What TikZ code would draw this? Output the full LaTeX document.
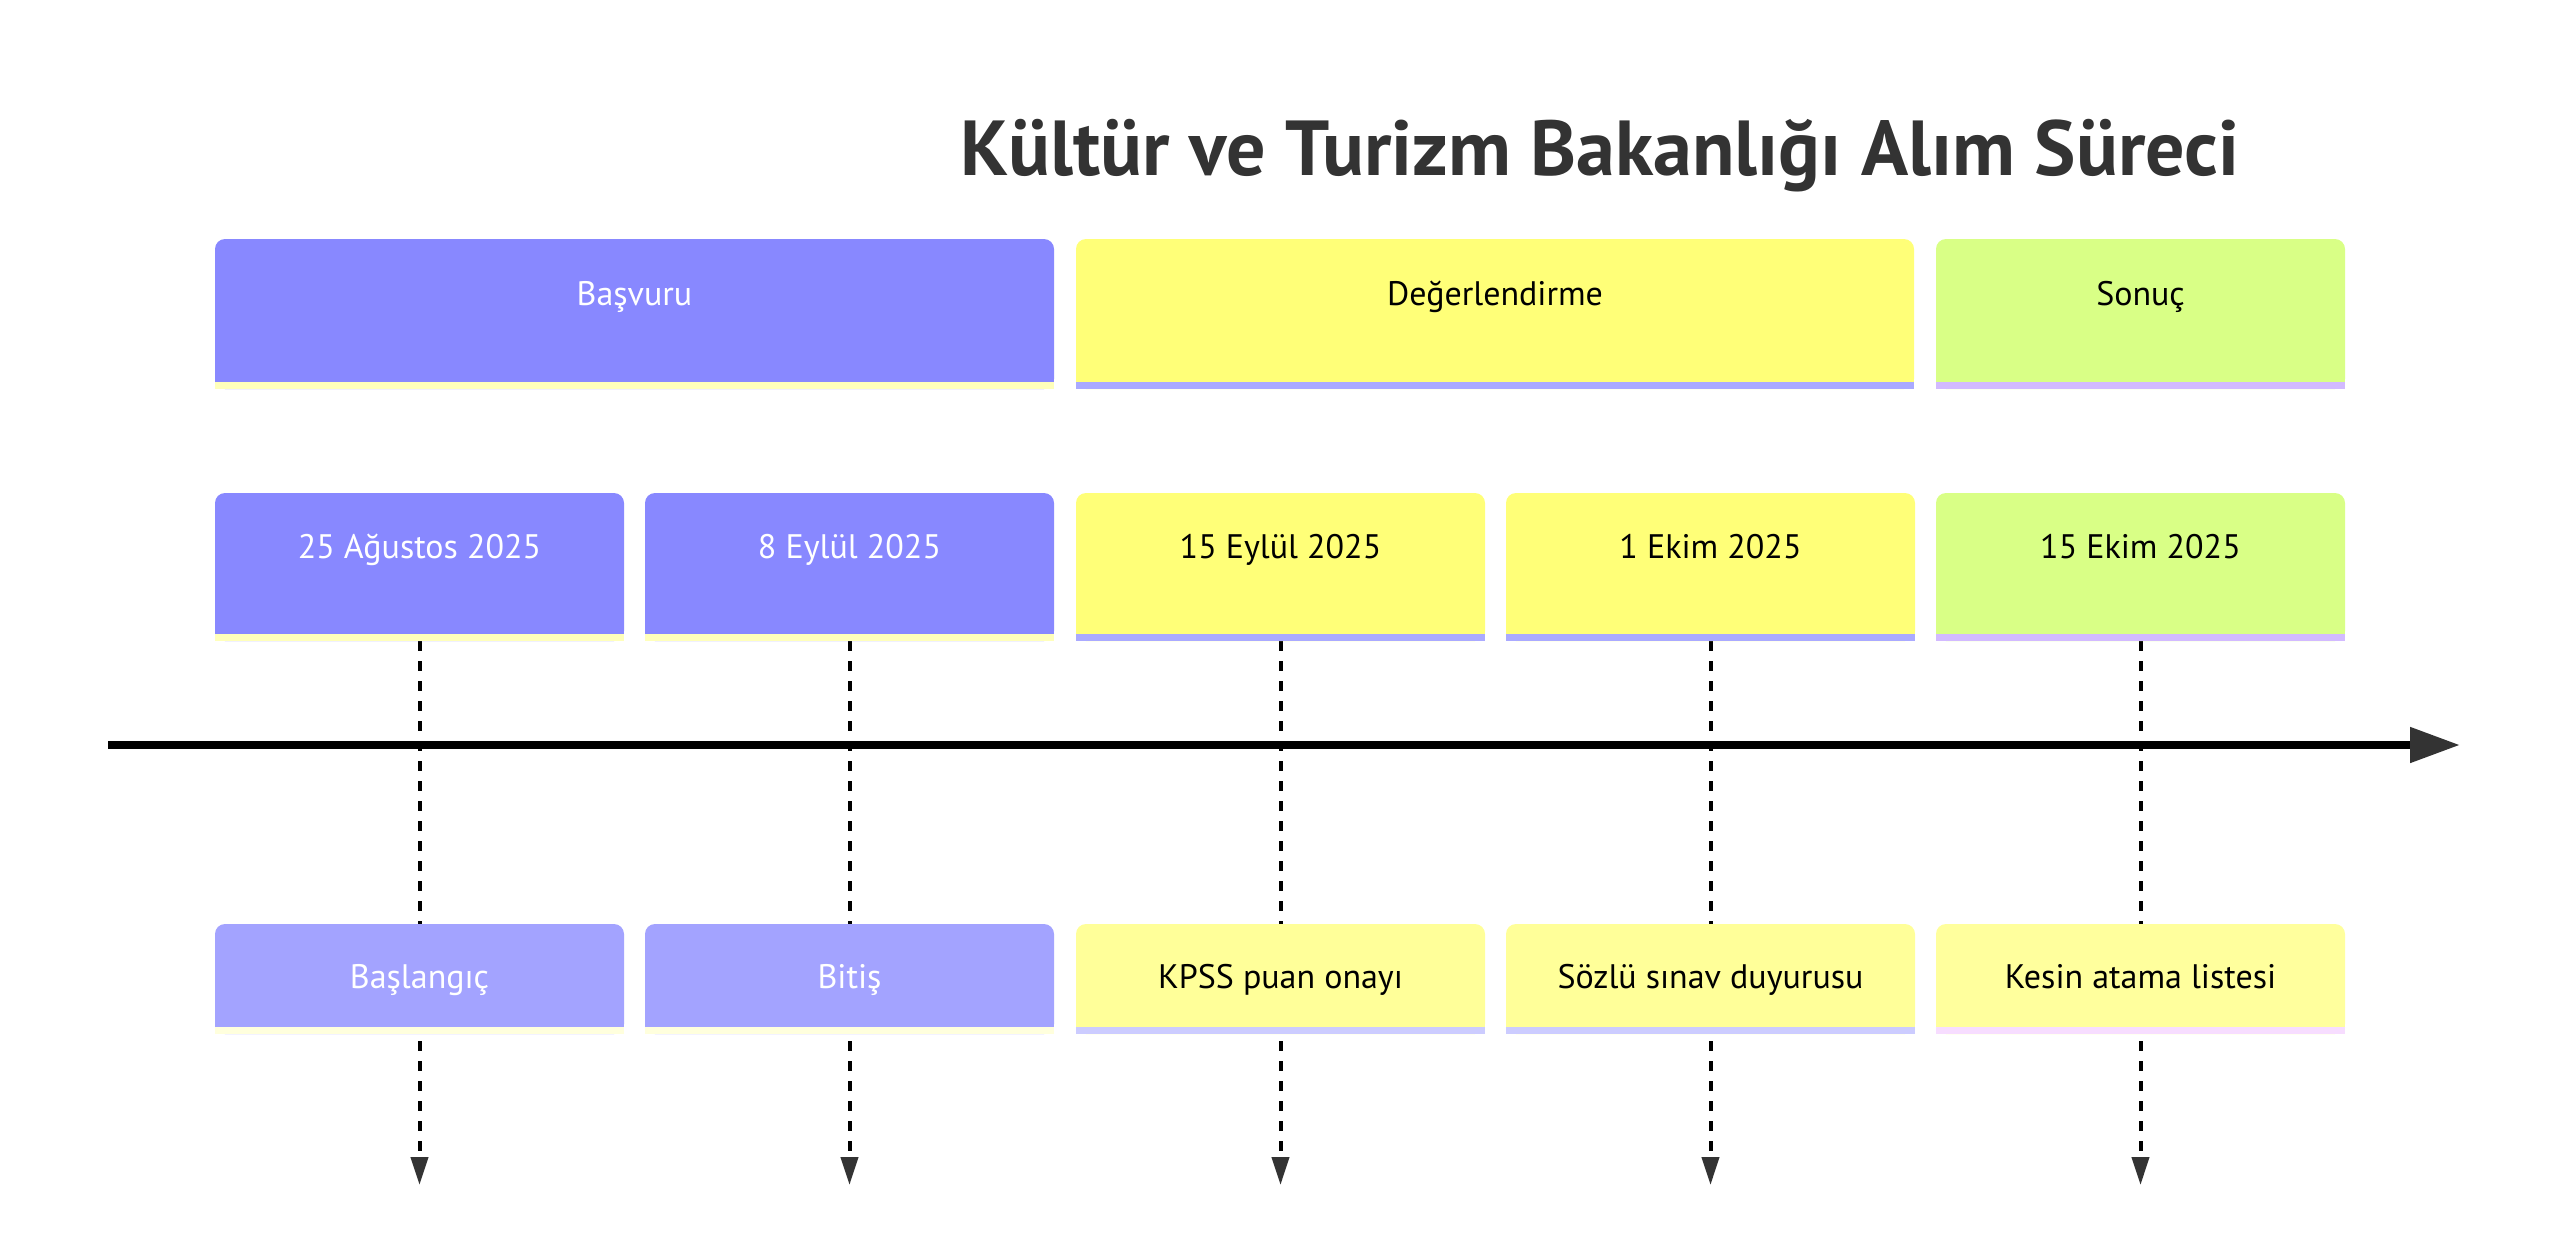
\documentclass[tikz,border=0pt]{standalone}
\usepackage{fontspec}
\setmainfont{PT Sans}
\usetikzlibrary{arrows.meta}
\definecolor{secA}{HTML}{8888FF}
\definecolor{secAs}{HTML}{FFFFBB}
\definecolor{evA}{HTML}{A3A3FF}
\definecolor{evAs}{HTML}{FFFFDD}
\definecolor{secB}{HTML}{FFFF78}
\definecolor{secBs}{HTML}{AAAAFF}
\definecolor{evB}{HTML}{FFFF99}
\definecolor{evBs}{HTML}{CCCCFF}
\definecolor{secC}{HTML}{D9FF86}
\definecolor{secCs}{HTML}{D2BAFF}
\definecolor{evC}{HTML}{FFFF9D}
\definecolor{evCs}{HTML}{F7DDFF}
\definecolor{tipgray}{HTML}{333333}
\definecolor{titlegray}{HTML}{333333}
\newcommand\tlbox[3]{%
  \fill[#2, rounded corners=10pt] (#1.south west) rectangle (#1.north east);
  \fill[#2] (#1.south west) rectangle ([yshift=20pt]#1.south east);
  \fill[#3] (#1.south west) rectangle ([yshift=7pt]#1.south east);
}
\begin{document}
\begin{tikzpicture}[x=1pt,y=-1pt,
  boxnode/.style={inner sep=0pt, outer sep=0pt, minimum width=#1, anchor=north west},
  secbox/.style={boxnode=#1, minimum height=150pt},
  taskbox/.style={boxnode=409pt, minimum height=148pt},
  evbox/.style={boxnode=409pt, minimum height=110pt},
  lbl/.style={font=\fontsize{34}{40}\selectfont, anchor=base, inner sep=0pt},
  wlbl/.style={lbl, text=white},
  blbl/.style={lbl, text=black},
  dashline/.style={draw=black, line width=4pt, dash pattern=on 10pt off 10pt,
    -{Triangle[length=28pt,width=17pt,color=tipgray]}},
  axisline/.style={draw=black, line width=8pt,
    -{Triangle[length=50pt,width=34pt,color=tipgray]}},
]
\useasboundingbox (0,0) rectangle (2560,1253);
\fill[white] (0,0) rectangle (2560,1253);

% title
\node[font=\bfseries\fontsize{78}{92}\selectfont, text=titlegray, anchor=base, inner sep=0pt] (title) at (1600,175) {Kültür ve Turizm Bakanlığı Alım Süreci};

% box nodes
\node[secbox=839pt] (s1) at (215,239) {};
\node[secbox=838pt] (s2) at (1076,239) {};
\node[secbox=409pt] (s3) at (1936,239) {};

\node[taskbox] (t1) at (215,493) {};
\node[taskbox] (t2) at (645,493) {};
\node[taskbox] (t3) at (1076,493) {};
\node[taskbox] (t4) at (1506,493) {};
\node[taskbox] (t5) at (1936,493) {};

\node[evbox] (e1) at (215,924) {};
\node[evbox] (e2) at (645,924) {};
\node[evbox] (e3) at (1076,924) {};
\node[evbox] (e4) at (1506,924) {};
\node[evbox] (e5) at (1936,924) {};

% arrow ends
\coordinate (d1) at (419.5,1185);
\coordinate (d2) at (849.5,1185);
\coordinate (d3) at (1280.5,1185);
\coordinate (d4) at (1710.5,1185);
\coordinate (d5) at (2140.5,1185);
\coordinate (ax0) at (108,745);
\coordinate (ax1) at (2460,745);

% dashed connectors
\draw[dashline] (t1.south) -- (d1);
\draw[dashline] (t2.south) -- (d2);
\draw[dashline] (t3.south) -- (d3);
\draw[dashline] (t4.south) -- (d4);
\draw[dashline] (t5.south) -- (d5);

% axis
\draw[axisline] (ax0) -- (ax1);

% shapes
\tlbox{s1}{secA}{secAs}
\tlbox{s2}{secB}{secBs}
\tlbox{s3}{secC}{secCs}
\tlbox{t1}{secA}{secAs}
\tlbox{t2}{secA}{secAs}
\tlbox{t3}{secB}{secBs}
\tlbox{t4}{secB}{secBs}
\tlbox{t5}{secC}{secCs}
\tlbox{e1}{evA}{evAs}
\tlbox{e2}{evA}{evAs}
\tlbox{e3}{evB}{evBs}
\tlbox{e4}{evB}{evBs}
\tlbox{e5}{evC}{evCs}

% labels
\node[wlbl] (s1l) at ([yshift=-66pt]s1.north) {Başvuru};
\node[blbl] (s2l) at ([yshift=-66pt]s2.north) {Değerlendirme};
\node[blbl] (s3l) at ([yshift=-66pt]s3.north) {Sonuç};

\node[wlbl] (t1l) at ([yshift=-65pt]t1.north) {25 Ağustos 2025};
\node[wlbl] (t2l) at ([yshift=-65pt]t2.north) {8 Eylül 2025};
\node[blbl] (t3l) at ([yshift=-65pt]t3.north) {15 Eylül 2025};
\node[blbl] (t4l) at ([yshift=-65pt]t4.north) {1 Ekim 2025};
\node[blbl] (t5l) at ([yshift=-65pt]t5.north) {15 Ekim 2025};

\node[wlbl] (e1l) at ([yshift=-64pt]e1.north) {Başlangıç};
\node[wlbl] (e2l) at ([yshift=-64pt]e2.north) {Bitiş};
\node[blbl] (e3l) at ([yshift=-64pt]e3.north) {KPSS puan onayı};
\node[blbl] (e4l) at ([yshift=-64pt]e4.north) {Sözlü sınav duyurusu};
\node[blbl] (e5l) at ([yshift=-64pt]e5.north) {Kesin atama listesi};
\end{tikzpicture}
\end{document}
